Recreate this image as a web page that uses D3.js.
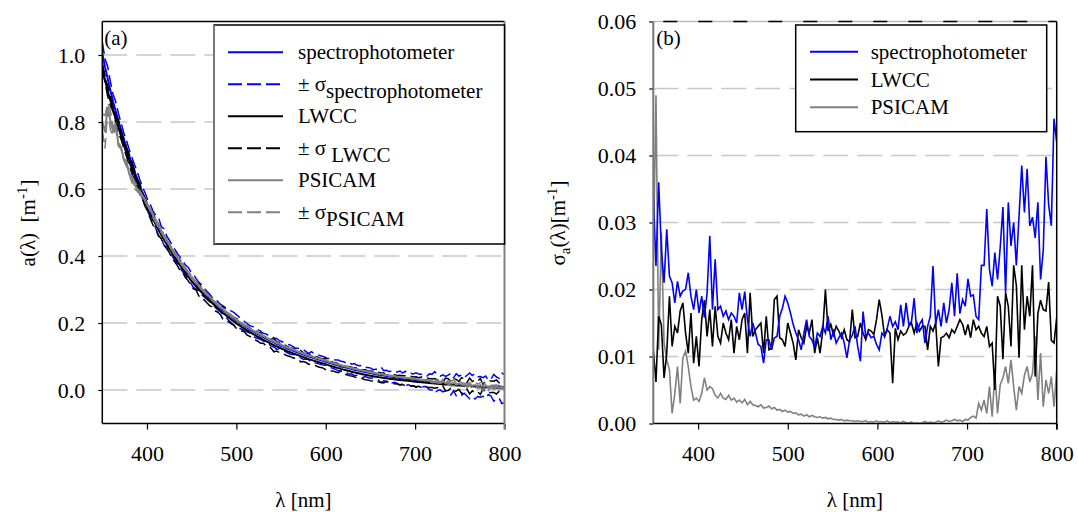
<!DOCTYPE html>
<html>
<head>
<meta charset="utf-8">
<script src="https://cdn.jsdelivr.net/npm/d3@7"></script>
<style>
  body { margin: 0; background: #fff; }
  text { font-family: "Liberation Serif", "Times New Roman", serif; fill: #000; }
</style>
</head>
<body>
<svg id="chart" width="1078" height="512"></svg>
<script>
// wavelength grid, 3 nm steps from 350 to 800
var wavelength = d3.range(350, 801, 3);

// panel (a): mean absorption coefficient a(lambda) [1/m]
var aSpectro = [
  1.005, .965, .930, .895, .862, .832, .804, .776, .750, .724,
  .700, .676, .653, .630, .609, .588, .568, .549, .533, .517,
  .501, .486, .471, .457, .443, .430, .417, .404, .392, .380,
  .369, .358, .347, .336, .326, .317, .308, .300, .291, .283,
  .275, .267, .260, .252, .245, .238, .232, .225, .219, .213,
  .207, .2015, .196, .191, .186, .181, .176, .172, .167, .163,
  .158, .154, .150, .146, .142, .138, .135, .131, .128, .124,
  .121, .118, .115, .112, .109, .106, .103, .100, .098, .095,
  .093, .090, .088, .086, .083, .0805, .078, .0756, .0733, .071,
  .0689, .0667, .0647, .0627, .0607, .0589, .0571, .0553, .0536, .0520,
  .0504, .0488, .0473, .0458, .0444, .0431, .0417, .0404, .0392, .0380,
  .0368, .0357, .0346, .0335, .0325, .0315, .0305, .0295, .0285, .0275,
  .0265, .0255, .0245, .0236, .0227, .0218, .0209, .0200, .0191, .0183,
  .0175, .0167, .0159, .0151, .0144, .0137, .0130, .0123, .0116, .0109,
  .0102, .0096, .0090, .0084, .0078, .0072, .0066, .0060, .0054, .0048,
  .0042
];
var aLwcc = [
  .965, .925, .893, .864, .838, .811, .786, .760, .736, .711,
  .688, .665, .643, .621, .600, .580, .560, .541, .525, .509,
  .493, .478, .463, .449, .435, .422, .409, .396, .384, .372,
  .361, .350, .339, .328, .318, .309, .300, .292, .283, .275,
  .267, .259, .252, .244, .237, .230, .224, .217, .211, .205,
  .199, .1935, .188, .183, .178, .173, .168, .164, .159, .155,
  .150, .146, .142, .138, .134, .130, .127, .123, .120, .116,
  .113, .110, .107, .104, .101, .098, .095, .092, .090, .087,
  .085, .082, .080, .078, .075, .0725, .070, .0676, .0653, .063,
  .0609, .0587, .0567, .0547, .0527, .0509, .0491, .0473, .0456, .0440,
  .0424, .0410, .0397, .0384, .0372, .0361, .0349, .0338, .0328, .0318,
  .0308, .0299, .0290, .0281, .0273, .0265, .0257, .0249, .0241, .0233,
  .0225, .0217, .0209, .0202, .0195, .0188, .0181, .0174, .0167, .0161,
  .0155, .0149, .0143, .0138, .0133, .0128, .0123, .0119, .0115, .0111,
  .0108, .0105, .0102, .0099, .0097, .0095, .0093, .0091, .0089, .0087,
  .0086
];
var aPsicam = [
  .800, .770, .845, .805, .772, .790, .735, .722, .690, .676,
  .648, .630, .612, .602, .590, .578, .565, .551, .536, .520,
  .504, .489, .474, .460, .446, .433, .420, .407, .395, .383,
  .372, .361, .350, .339, .329, .320, .311, .303, .294, .286,
  .278, .270, .263, .255, .248, .241, .235, .228, .222, .216,
  .210, .2045, .199, .194, .189, .184, .179, .175, .170, .166,
  .161, .157, .153, .149, .145, .141, .138, .134, .131, .127,
  .124, .121, .118, .115, .112, .109, .106, .103, .101, .098,
  .096, .093, .091, .089, .086, .0835, .081, .0786, .0763, .074,
  .0719, .0697, .0677, .0657, .0637, .0619, .0601, .0583, .0566, .0550,
  .0534, .0518, .0503, .0488, .0474, .0461, .0447, .0434, .0422, .0410,
  .0398, .0387, .0376, .0365, .0355, .0345, .0335, .0325, .0315, .0305,
  .0295, .0285, .0275, .0262, .0245, .0262, .0222, .0250, .0205, .0228,
  .0190, .0215, .0168, .0195, .0158, .0180, .0135, .0168, .0128, .0150,
  .0112, .0145, .0100, .0128, .0088, .0115, .0075, .0102, .0065, .0090,
  .0060
];

// panel (b): standard deviation sigma_a(lambda) [1/m]
var sdSpectro = [
  .034, .0235, .036, .026, .021, .029, .022, .021, .018, .0212,
  .019, .0198, .020, .0225, .019, .017, .020, .0165, .019, .0158,
  .0195, .028, .017, .0245, .017, .0175, .016, .0168, .0155, .0165,
  .016, .015, .0195, .017, .0197, .0155, .013, .015, .0135, .0118,
  .0115, .009, .0125, .0125, .011, .0128, .013, .016, .0172, .019,
  .018, .0165, .0148, .0135, .0125, .011, .0135, .0155, .013, .0125,
  .0113, .0135, .013, .0145, .0135, .016, .0125, .0138, .012, .0128,
  .0135, .012, .0098, .0125, .0132, .0145, .0115, .0093, .0167, .013,
  .0135, .0128, .013, .0118, .011, .0135, .013, .0142, .016, .0145,
  .0152, .014, .0177, .0145, .018, .0148, .0152, .0187, .0135, .0148,
  .0155, .012, .0145, .016, .0235, .0148, .017, .0145, .018, .015,
  .017, .021, .016, .0224, .0164, .0185, .0175, .0216, .019, .0192,
  .016, .0155, .0236, .0236, .032, .023, .0205, .0255, .0215, .0263,
  .0323, .0195, .033, .0265, .030, .0236, .031, .0385, .0315, .038,
  .0295, .0308, .0277, .033, .0215, .0258, .0398, .0327, .0295, .0455,
  .042
];
var sdLwcc = [
  .011, .0062, .016, .0147, .0068, .0105, .019, .0115, .0145, .0135,
  .0168, .018, .0135, .0105, .0165, .009, .013, .0085, .0155, .0184,
  .013, .017, .0115, .0175, .013, .012, .015, .0135, .0125, .0155,
  .0105, .0145, .0125, .0155, .0165, .0105, .0195, .013, .014, .0145,
  .015, .0105, .016, .011, .0112, .0185, .019, .0128, .0125, .0115,
  .015, .0135, .012, .0095, .014, .0128, .012, .0145, .0135, .0155,
  .0105, .0128, .0105, .0138, .020, .0138, .0148, .0132, .0145, .0138,
  .0128, .014, .0125, .0122, .017, .0128, .013, .015, .0135, .0125,
  .014, .0138, .0133, .0155, .0185, .0162, .013, .014, .0135, .006,
  .0142, .0125, .0138, .0132, .0135, .0145, .015, .0135, .015, .0138,
  .0145, .0145, .011, .0145, .0138, .015, .0085, .0128, .013, .0135,
  .0128, .014, .0135, .0145, .0155, .0148, .0132, .0148, .0128, .0155,
  .014, .0145, .0135, .013, .0145, .0115, .012, .005, .019, .0175,
  .0096, .0195, .0175, .0115, .0236, .0206, .0098, .0236, .014, .019,
  .016, .0236, .007, .0164, .0184, .017, .0168, .0211, .0124, .012,
  .0158
];
var sdPsicam = [
  .024, .049, .011, .0285, .012, .0095, .008, .0015, .0045, .0085,
  .003, .0098, .0108, .0085, .0055, .0035, .0038, .0033, .0045, .0068,
  .005, .0055, .0052, .0042, .0038, .0045, .0038, .0036, .0042, .0035,
  .0038, .0032, .0035, .0031, .0036, .0028, .0033, .0028, .0027, .0025,
  .0028, .0023, .0024, .0026, .0022, .0024, .0020, .0021, .0018, .0020,
  .0017, .0018, .0015, .0016, .0013, .0014, .0011, .0013, .0010, .0012,
  .0010, .0009, .0010, .0008, .0009, .0007, .0008, .0006, .0006, .0005,
  .0006, .0004, .0005, .0004, .0004, .0003, .0004, .0003, .0003, .0004,
  .0002, .0003, .0002, .0004, .0002, .0003, .0002, .0004, .0001, .0003,
  .0002, .0002, .0001, .0003, .0001, .0001, .0002, .0000, .0001, .0000,
  .0001, .0003, .0001, .0002, .0001, .0002, .0004, .0002, .0003, .0005,
  .0003, .0004, .0006, .0004, .0005, .0003, .0006, .0005, .0009, .0011,
  .0008, .003, .002, .0035, .0015, .0055, .001, .0075, .0015, .0058,
  .0068, .0085, .006, .0095, .0055, .002, .0055, .0045, .0072, .0085,
  .0062, .0075, .013, .0035, .0105, .0025, .0065, .0045, .007, .0025,
  .008
];

var xTicks = [400, 500, 600, 700, 800];
var yTicksA = [0, 0.2, 0.4, 0.6, 0.8, 1.0];
var yTicksB = [0, 0.01, 0.02, 0.03, 0.04, 0.05, 0.06];
var seriesNames = ["spectrophotometer", "LWCC", "PSICAM"];
var seriesColors = ["#0000ff", "#000000", "#808080"];

var svg = d3.select("#chart");
var plotTop = 21.5, plotBottom = 423.5;

// panel frames
var panelA = { left: 102.3, right: 504.5 };
var panelB = { left: 653.3, right: 1056.7 };

var xA = d3.scaleLinear().domain([350, 800]).range([panelA.left, panelA.right]);
var yA = d3.scaleLinear().domain([-0.1, 1.1]).range([plotBottom, plotTop]);
var xB = d3.scaleLinear().domain([350, 800]).range([panelB.left, panelB.right]);
var yB = d3.scaleLinear().domain([0, 0.06]).range([plotBottom, plotTop]);

var defs = svg.append("defs");
defs.append("clipPath").attr("id", "clipA").append("rect")
  .attr("x", panelA.left).attr("y", plotTop)
  .attr("width", panelA.right - panelA.left).attr("height", plotBottom - plotTop);
defs.append("clipPath").attr("id", "clipB").append("rect")
  .attr("x", panelB.left).attr("y", plotTop)
  .attr("width", panelB.right - panelB.left).attr("height", plotBottom - plotTop);

// ---------- gridlines ----------
svg.append("g").selectAll("line").data(yTicksA).enter().append("line")
  .attr("x1", panelA.left).attr("x2", panelA.right)
  .attr("y1", d => yA(d)).attr("y2", d => yA(d))
  .attr("stroke", "#c8c8c8").attr("stroke-width", 1.5)
  .attr("stroke-dasharray", "25,9");

svg.append("g").selectAll("line").data(yTicksB.slice(1, 6)).enter().append("line")
  .attr("x1", panelB.left).attr("x2", panelB.right)
  .attr("y1", d => yB(d)).attr("y2", d => yB(d))
  .attr("stroke", "#c8c8c8").attr("stroke-width", 1.5)
  .attr("stroke-dasharray", "25,9");

// ---------- panel (a) curves ----------
var means = [aSpectro, aLwcc, aPsicam];
var sds = [sdSpectro, sdLwcc, sdPsicam];

var lineA = d3.line()
  .x(d => xA(d[0]))
  .y(d => yA(d[1]));

var gA = svg.append("g").attr("clip-path", "url(#clipA)");
means.forEach(function(m, k) {
  var upper = wavelength.map((w, i) => [w, m[i] + sds[k][i]]);
  var lower = wavelength.map((w, i) => [w, m[i] - sds[k][i]]);
  [upper, lower].forEach(function(b) {
    gA.append("path").datum(b)
      .attr("d", lineA)
      .attr("fill", "none")
      .attr("stroke", seriesColors[k])
      .attr("stroke-width", 1.5)
      .attr("stroke-dasharray", "12,5");
  });
  gA.append("path").datum(wavelength.map((w, i) => [w, m[i]]))
    .attr("d", lineA)
    .attr("fill", "none")
    .attr("stroke", seriesColors[k])
    .attr("stroke-width", 2);
});

// ---------- panel (b) curves ----------
var lineB = d3.line()
  .x(d => xB(d[0]))
  .y(d => yB(d[1]));

var gB = svg.append("g").attr("clip-path", "url(#clipB)");
[sdPsicam, sdLwcc, sdSpectro].forEach(function(s) {
  var k = sds.indexOf(s);
  gB.append("path").datum(wavelength.map((w, i) => [w, s[i]]))
    .attr("d", lineB)
    .attr("fill", "none")
    .attr("stroke", seriesColors[k])
    .attr("stroke-width", 1.6);
});

// ---------- axes ----------
function styleAxis(g) {
  g.select(".domain").remove();
  g.selectAll(".tick line").attr("stroke", "#000").attr("stroke-width", 1.2);
  g.selectAll(".tick text").attr("font-size", 22)
    .attr("font-family", "'Liberation Serif', 'Times New Roman', serif");
}

svg.append("g").attr("transform", `translate(0, ${plotBottom})`)
  .call(d3.axisBottom(xA).tickValues(xTicks).tickFormat(d3.format("d")).tickSize(6).tickPadding(16))
  .call(styleAxis);
svg.append("g").attr("transform", `translate(${panelA.left}, 0)`)
  .call(d3.axisLeft(yA).tickValues(yTicksA).tickFormat(d3.format(".1f")).tickSize(4).tickPadding(13))
  .call(styleAxis);
svg.append("g").attr("transform", `translate(0, ${plotBottom})`)
  .call(d3.axisBottom(xB).tickValues(xTicks).tickFormat(d3.format("d")).tickSize(6).tickPadding(16))
  .call(styleAxis);
svg.append("g").attr("transform", `translate(${panelB.left}, 0)`)
  .call(d3.axisLeft(yB).tickValues(yTicksB).tickFormat(d3.format(".2f")).tickSize(4).tickPadding(13))
  .call(styleAxis);

// ---------- frames ----------
function spine(x1, y1, x2, y2, color, w, dash) {
  svg.append("line").attr("x1", x1).attr("y1", y1).attr("x2", x2).attr("y2", y2)
    .attr("stroke", color).attr("stroke-width", w)
    .attr("stroke-dasharray", dash || null);
}
spine(panelA.left, plotTop, panelA.right, plotTop, "#000", 1.5);
spine(panelA.left, plotTop, panelA.left, plotBottom, "#000", 1.5);
spine(panelA.left, plotBottom, panelA.right, plotBottom, "#000", 1.5);
spine(panelA.right, plotTop, panelA.right, plotBottom + 6, "#808080", 2);

spine(panelB.left, plotTop, panelB.right, plotTop, "#bbb", 1.5);
spine(panelB.left + 10, plotTop, panelB.right, plotTop, "#000", 1.5, "14,21");
spine(panelB.left, plotTop, panelB.left, plotBottom, "#777", 2);
spine(panelB.left, plotBottom, panelB.right, plotBottom, "#000", 1.5);
spine(panelB.right, plotTop, panelB.right, plotBottom + 6, "#000", 1.5);

// ---------- panel labels ----------
svg.append("text").attr("x", panelA.left + 2).attr("y", 44.5).attr("font-size", 21).text("(a)");
svg.append("text").attr("x", panelB.left + 3).attr("y", 44.5).attr("font-size", 21).text("(b)");

// ---------- axis titles ----------
[xA, xB].forEach(function(x) {
  svg.append("text")
    .attr("x", (x.range()[0] + x.range()[1]) / 2)
    .attr("y", 507)
    .attr("text-anchor", "middle")
    .attr("font-size", 21)
    .text("λ [nm]");
});

var titleA = svg.append("text")
  .attr("transform", "translate(35, 223) rotate(-90)")
  .attr("text-anchor", "middle")
  .attr("font-size", 21);
titleA.append("tspan").text("a(λ)\u00a0\u00a0[m");
titleA.append("tspan").attr("dy", -8).attr("font-size", 15).text("-1");
titleA.append("tspan").attr("dy", 8).text("]");

var titleB = svg.append("text")
  .attr("transform", "translate(565, 223) rotate(-90)")
  .attr("text-anchor", "middle")
  .attr("font-size", 21);
titleB.append("tspan").text("σ");
titleB.append("tspan").attr("dy", 5).attr("font-size", 15).text("a");
titleB.append("tspan").attr("dy", -5).text("(λ)[m");
titleB.append("tspan").attr("dy", -8).attr("font-size", 15).text("-1");
titleB.append("tspan").attr("dy", 8).text("]");

// ---------- legend (a) ----------
var legendA = [
  { main: seriesNames[0], sub: null, k: 0, dash: null },
  { main: "± σ", sub: seriesNames[0], k: 0, dash: "14,5" },
  { main: seriesNames[1], sub: null, k: 1, dash: null },
  { main: "± σ\u00a0", sub: seriesNames[1], k: 1, dash: "14,5" },
  { main: seriesNames[2], sub: null, k: 2, dash: null },
  { main: "± σ", sub: seriesNames[2], k: 2, dash: "14,5" }
];
var legA = svg.append("g");
legA.append("rect").attr("x", 214).attr("y", 25).attr("width", panelA.right - 214).attr("height", 219)
  .attr("fill", "#fff").attr("stroke", "#000").attr("stroke-width", 1.5);
legA.append("line").attr("x1", 214).attr("x2", 214).attr("y1", 25).attr("y2", 244)
  .attr("stroke", "#777").attr("stroke-width", 2);
legendA.forEach(function(e, i) {
  var y = 52.3 + i * 32;
  legA.append("line").attr("x1", 228).attr("x2", 283).attr("y1", y).attr("y2", y)
    .attr("stroke", seriesColors[e.k]).attr("stroke-width", 2)
    .attr("stroke-dasharray", e.dash);
  var t = legA.append("text").attr("x", 298).attr("y", y + 6.5).attr("font-size", 21)
    .style("white-space", "pre");
  t.append("tspan").text(e.main);
  if (e.sub) t.append("tspan").attr("dy", 7).text(e.sub);
});

// ---------- legend (b) ----------
var legB = svg.append("g");
legB.append("rect").attr("x", 795.7).attr("y", 25).attr("width", 251).attr("height", 106.7)
  .attr("fill", "#fff").attr("stroke", "#000").attr("stroke-width", 1.5);
seriesNames.forEach(function(name, k) {
  var y = 51.7 + k * 27.8;
  legB.append("line").attr("x1", 810).attr("x2", 858).attr("y1", y).attr("y2", y)
    .attr("stroke", seriesColors[k]).attr("stroke-width", 2);
  legB.append("text").attr("x", 870.7).attr("y", y + 7).attr("font-size", 21).text(name);
});
</script>
</body>
</html>
